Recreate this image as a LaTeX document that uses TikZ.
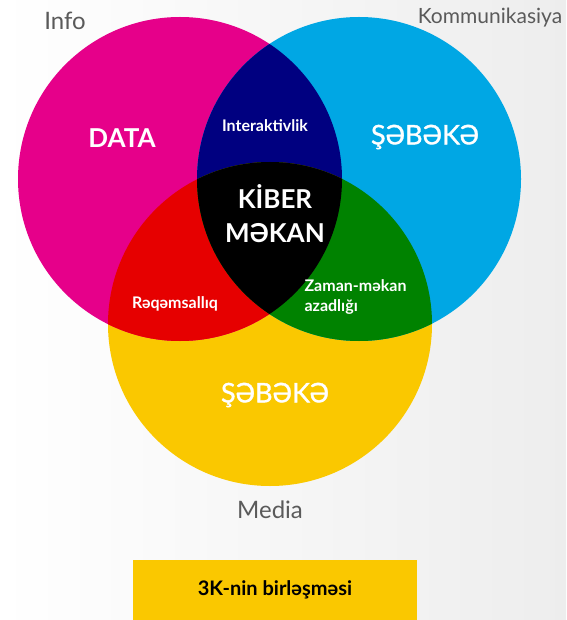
\documentclass[tikz,border=0pt]{standalone}
\usepackage{fontspec}
\setmainfont{Lato}
\newfontfamily\medlato[FakeBold=1.2]{Lato}
\usetikzlibrary{positioning}
\definecolor{infocol}{HTML}{E6008A}
\definecolor{kommcol}{HTML}{00A7E4}
\definecolor{mediacol}{HTML}{FAC800}
\definecolor{navycol}{HTML}{000080}
\definecolor{redcol}{HTML}{E60000}
\definecolor{greencol}{HTML}{008200}
\definecolor{captiongray}{HTML}{5A5A5A}
\def\setrad{162pt}

\begin{document}
\begin{tikzpicture}[x=1pt,y=-1pt]
    \tikzstyle{outer}=[text=captiongray, font=\fontsize{24}{28}\selectfont]
    \tikzstyle{big}=[text=white, font=\bfseries\fontsize{26}{34}\selectfont, align=center]
    \tikzstyle{netword}=[text=white, font=\medlato\fontsize{27}{30}\selectfont]
    \tikzstyle{small}=[text=white, font=\bfseries\fontsize{16}{20}\selectfont]
    \tikzstyle{bar}=[fill=mediacol, minimum width=284pt, minimum height=60pt, inner sep=0pt, font=\bfseries\fontsize{20}{24}\selectfont]

    \useasboundingbox (0,0) rectangle (566,620);
    \shade[left color=white, right color=black!7] (0,0) rectangle (566,620);

    % set centres
    \coordinate (I) at (180,179);
    \coordinate (K) at (359,179);
    \coordinate (M) at (270,324);

    \fill[mediacol] (M) circle (\setrad);
    \fill[infocol] (I) circle (\setrad);
    \fill[kommcol] (K) circle (\setrad);

    % overlaps
    \begin{scope}
        \clip (I) circle (\setrad);
        \fill[navycol] (K) circle (\setrad);
        \fill[redcol] (M) circle (\setrad);
    \end{scope}
    \begin{scope}
        \clip (K) circle (\setrad);
        \fill[greencol] (M) circle (\setrad);
        \clip (I) circle (\setrad);
        \fill[black] (M) circle (\setrad);
    \end{scope}

    \node[outer] (info) at (65,21) {Info};
    \node[outer, font=\fontsize{21}{24}\selectfont] (komm) at (490,18) {Kommunikasiya};
    \node[outer] (media) at (270,510) {Media};

    \node[big] (data) at (122,138) {DATA};
    \node[netword] (net-K) at (425,137) {ŞƏBƏKƏ};
    \node[netword] (net-M) at (275,395) {ŞƏBƏKƏ};
    \node[big] (cyber) at (275,214) {KİBER\\MƏKAN};

    \node[small] (inter) at (265,126) {Interaktivlik};
    \node[small] (digit) at (175,304) {Rəqəmsallıq};
    \node[small, align=left, anchor=west] (free) at (301,297) {Zaman-məkan\\azadlığı};

    \node[bar] (union) at (275,590) {3K-nin birləşməsi};
\end{tikzpicture}
\end{document}
